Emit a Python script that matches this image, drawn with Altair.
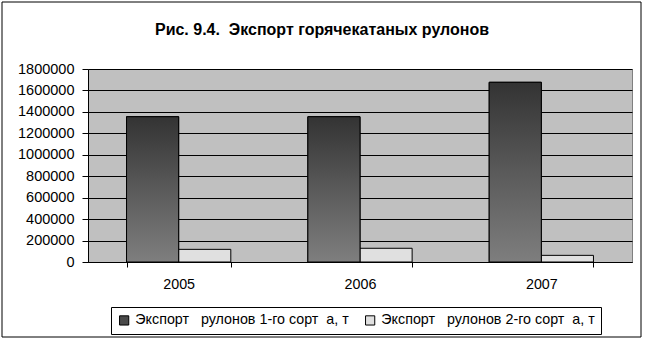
import altair as alt
import pandas as pd

years = ["2005", "2006", "2007"]
series = ["Экспорт\u00a0\u00a0\u00a0рулонов 1-го сорт\u00a0\u00a0а, т",
          "Экспорт\u00a0\u00a0\u00a0рулонов 2-го сорт\u00a0\u00a0а, т\u00a0\u00a0"]
grade1 = [1355000, 1355000, 1676000]
grade2 = [118000, 128000, 62000]
title_text = "Рис. 9.4.\u00a0\u00a0Экспорт горячекатаных рулонов"

rows = []
for i, y in enumerate(years):
    rows.append({"year": y, "series": series[0], "value": grade1[i]})
    rows.append({"year": y, "series": series[1], "value": grade2[i]})
df = pd.DataFrame(rows)

FONT = "Liberation Sans"

x_enc = alt.X("year:N", title=None,
              scale=alt.Scale(paddingInner=0.425, paddingOuter=0.2125),
              axis=alt.Axis(labelAngle=0, tickBand="extent", domainColor="black",
                            tickColor="black", tickSize=5, labelPadding=10,
                            labelFontSize=14.3, labelFont=FONT, labelColor="black"))
y_enc = alt.Y("value:Q", title=None,
              scale=alt.Scale(domain=[0, 1800000]),
              axis=alt.Axis(values=list(range(0, 1800001, 200000)), format="d",
                            grid=True, gridColor="black", gridOpacity=1,
                            domainColor="black", tickColor="black", tickSize=6,
                            labelPadding=8, labelFontSize=14.5, labelFont=FONT,
                            labelColor="black"))

one = pd.DataFrame({"t": [title_text]})
frame = alt.Chart(one).mark_rect(
    fill=None, fillOpacity=0, stroke="black", strokeWidth=1
).encode(x=alt.value(-86), x2=alt.value(553), y=alt.value(-67), y2=alt.value(268))

title = alt.Chart(one).mark_text(
    font=FONT, fontSize=16, fontWeight="bold", color="black", align="center",
    baseline="middle"
).encode(text="t:N", x=alt.value(234), y=alt.value(-39))

base = alt.Chart(df).mark_bar(stroke="black", strokeWidth=1).encode(
    x=x_enc,
    xOffset=alt.XOffset("series:N", sort=series),
    y=y_enc,
    color=alt.Color("series:N", sort=series,
                    scale=alt.Scale(domain=series, range=["#4a4a4a", "#e0e0e0"]),
                    legend=alt.Legend(title=None, orient="none", direction="horizontal",
                                      legendX=23, legendY=238, strokeColor="black",
                                      padding=6, symbolType="square", symbolSize=85,
                                      symbolStrokeColor="black", symbolStrokeWidth=1,
                                      labelFontSize=14.3, labelFont=FONT, labelColor="black",
                                      labelOffset=4, columnPadding=14, labelLimit=320)),
)

grad = alt.Chart(df).transform_filter(alt.datum.series == series[0]).mark_bar(
    stroke="black", strokeWidth=1,
    fill=alt.Gradient(gradient="linear", x1=0, y1=0, x2=0, y2=1,
                      stops=[alt.GradientStop(color="#333333", offset=0),
                             alt.GradientStop(color="#5a5a5a", offset=0.5),
                             alt.GradientStop(color="#7e7e7e", offset=1)])
).encode(
    x=x_enc,
    xOffset=alt.XOffset("series:N", sort=series, scale=alt.Scale(domain=series)),
    y=y_enc,
)

chart = alt.layer(frame, title, base, grad).properties(
    width=544, height=193,
    autosize=alt.AutoSizeParams(type="none"),
    padding={"left": 88, "top": 69, "right": 15, "bottom": 79},
    background="white",
).configure_view(fill="#c0c0c0", stroke="#808080", strokeWidth=1)

chart.save("out.html", embed_options={"renderer": "svg", "actions": False})
